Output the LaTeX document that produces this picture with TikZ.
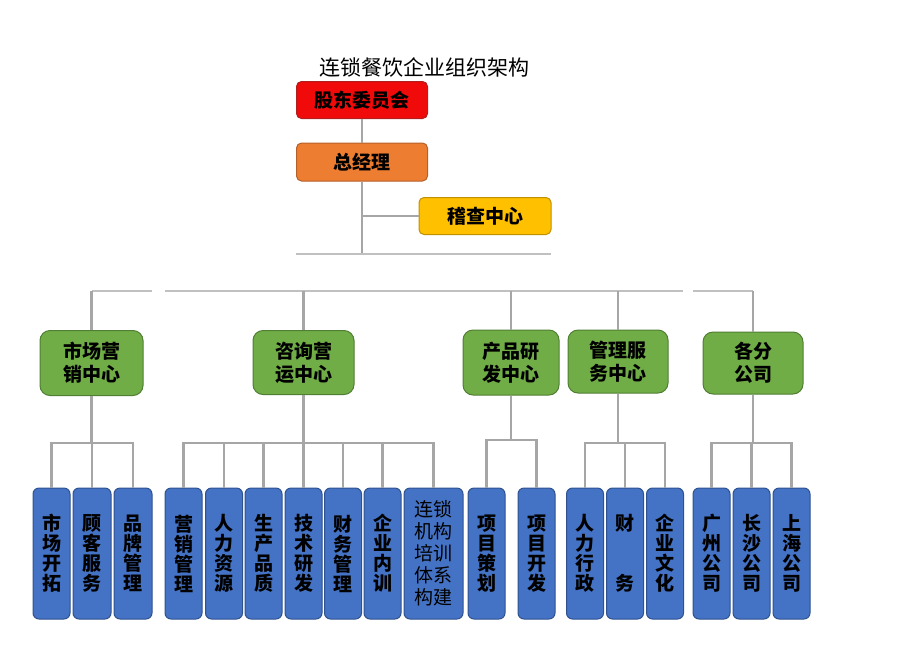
\documentclass[tikz,border=0pt]{standalone}
\usepackage{fontspec}
\setmainfont{Noto Sans CJK SC}
\definecolor{redf}{HTML}{F00A0A}
\definecolor{redd}{HTML}{B01E1E}
\definecolor{orgf}{HTML}{ED7D31}
\definecolor{orgd}{HTML}{B5602A}
\definecolor{goldf}{HTML}{FFC000}
\definecolor{goldd}{HTML}{BF9000}
\definecolor{grnf}{HTML}{70AD47}
\definecolor{grnd}{HTML}{507E32}
\definecolor{bluf}{HTML}{4472C4}
\definecolor{blud}{HTML}{2F528F}
\definecolor{lineg}{HTML}{A6A6A6}
\definecolor{thing}{HTML}{C0C0C0}
\begin{document}
\begin{tikzpicture}[x=1pt,y=-1pt,
  topbox/.style={draw, line width=1pt, rounded corners=5pt, minimum width=131pt, minimum height=37pt, inner sep=0pt, font=\bfseries\fontsize{19}{22}\selectfont},
  grnbox/.style={draw=grnd, fill=grnf, line width=1pt, rounded corners=10pt, minimum height=65pt, inner sep=0pt, align=center, font=\bfseries\fontsize{19}{23}\selectfont},
  blubox/.style={draw=blud, fill=bluf, line width=1pt, rounded corners=6pt, minimum width=37pt, minimum height=131pt, inner sep=0pt, align=center, font=\bfseries\fontsize{19}{20}\selectfont},
  conn/.style={draw=lineg, line width=2.2pt},
  thinln/.style={draw=thing, line width=1.2pt}]
\useasboundingbox (0,0) rectangle (920,651);

% title
\node[font=\fontsize{21}{24}\selectfont] (title) at (424,67) {连锁餐饮企业组织架构};

% top boxes
\node[topbox, fill=redf, draw=redd] (board) at (362,100) {股东委员会};
\node[topbox, fill=orgf, draw=orgd, minimum height=38pt] (gm) at (362,162) {总经理};
\node[topbox, fill=goldf, draw=goldd, minimum width=132pt] (audit) at (485,216) {稽查中心};

\coordinate (t1) at (362,254);
\coordinate (hl1) at (296,254);
\coordinate (hl2) at (551,254);
\draw[conn] (board.south) -- (gm.north);
\draw[conn] (gm.south) -- (t1);
\draw[conn] (gm.south |- audit.west) -- (audit.west);
\draw[thinln] (hl1) -- (hl2);

% green boxes
\node[grnbox, minimum width=103pt] (mkt) at (91.5,363) {市场营\\销中心};
\node[grnbox, minimum width=101pt, minimum height=64pt] (zx) at (303.5,362.5) {咨询营\\运中心};
\node[grnbox, minimum width=96pt] (cp) at (511,362.5) {产品研\\发中心};
\node[grnbox, minimum width=100pt, minimum height=63pt] (gl) at (618,361.5) {管理服\\务中心};
\node[grnbox, minimum width=100pt, minimum height=62pt] (gf) at (753,363) {各分\\公司};

% line at 291
\coordinate (a1) at (91.5,291);
\coordinate (a2) at (152,291);
\coordinate (b1) at (165,291);
\coordinate (b2) at (683,291);
\coordinate (c1) at (693,291);
\coordinate (c2) at (753,291);
\draw[thinln] (a1) -- (a2);
\draw[thinln] (b1) -- (b2);
\draw[thinln] (c1) -- (c2);
\draw[conn] (mkt.north) -- (mkt.north |- a1);
\draw[conn] (zx.north) -- (zx.north |- b1);
\draw[conn] (cp.north) -- (cp.north |- b1);
\draw[conn] (gl.north) -- (gl.north |- b1);
\draw[conn] (gf.north) -- (c2);

% blue boxes
\node[blubox] (m1) at (51.5,553.5) {市\\场\\开\\拓};
\node[blubox, minimum width=38pt] (m2) at (92,553.5) {顾\\客\\服\\务};
\node[blubox, minimum width=38pt] (m3) at (133,553.5) {品\\牌\\管\\理};

\node[blubox] (z1) at (183.5,553.5) {营\\销\\管\\理};
\node[blubox] (z2) at (224,553.5) {人\\力\\资\\源};
\node[blubox] (z3) at (263.5,553.5) {生\\产\\品\\质};
\node[blubox] (z4) at (303.5,553.5) {技\\术\\研\\发};
\node[blubox] (z5) at (343,553.5) {财\\务\\管\\理};
\node[blubox] (z6) at (382.5,553.5) {企\\业\\内\\训};
\node[blubox, minimum width=59pt, font=\fontsize{19}{22}\selectfont] (z7) at (433.5,553.5) {连锁\\机构\\培训\\体系\\构建};

\node[blubox] (p1) at (486.5,553.5) {项\\目\\策\\划};
\node[blubox] (p2) at (536.5,553.5) {项\\目\\开\\发};

\node[blubox] (g1) at (585,553.5) {人\\力\\行\\政};
\node[blubox] (g2) at (625,553.5) {财\\[40pt]务};
\node[blubox] (g3) at (665,553.5) {企\\业\\文\\化};

\node[blubox] (f1) at (711.5,553.5) {广\\州\\公\\司};
\node[blubox] (f2) at (751.5,553.5) {长\\沙\\公\\司};
\node[blubox] (f3) at (791.5,553.5) {上\\海\\公\\司};

\coordinate (lvl) at (0,443);
\coordinate (lvlp) at (0,440);

% market
\draw[conn] (mkt.south) -- (mkt.south |- lvl);
\draw[conn] (m1.north) -- (m1.north |- lvl) -- (m3.north |- lvl) -- (m3.north);
\draw[conn] (m2.north) -- (m2.north |- lvl);
% consulting
\draw[conn] (zx.south) -- (zx.south |- lvl);
\draw[conn] (z1.north) -- (z1.north |- lvl) -- (z7.north |- lvl) -- (z7.north);
\foreach \n in {z2,z3,z4,z5,z6} \draw[conn] (\n.north) -- (\n.north |- lvl);
% product
\draw[conn] (cp.south) -- (cp.south |- lvlp);
\draw[conn] (p1.north) -- (p1.north |- lvlp) -- (p2.north |- lvlp) -- (p2.north);
% management
\draw[conn] (gl.south) -- (gl.south |- lvl);
\draw[conn] (g1.north) -- (g1.north |- lvl) -- (g3.north |- lvl) -- (g3.north);
\draw[conn] (g2.north) -- (g2.north |- lvl);
% branches
\draw[conn] (gf.south) -- (gf.south |- lvl);
\draw[conn] (f1.north) -- (f1.north |- lvl) -- (f3.north |- lvl) -- (f3.north);
\draw[conn] (f2.north) -- (f2.north |- lvl);
\end{tikzpicture}
\end{document}
